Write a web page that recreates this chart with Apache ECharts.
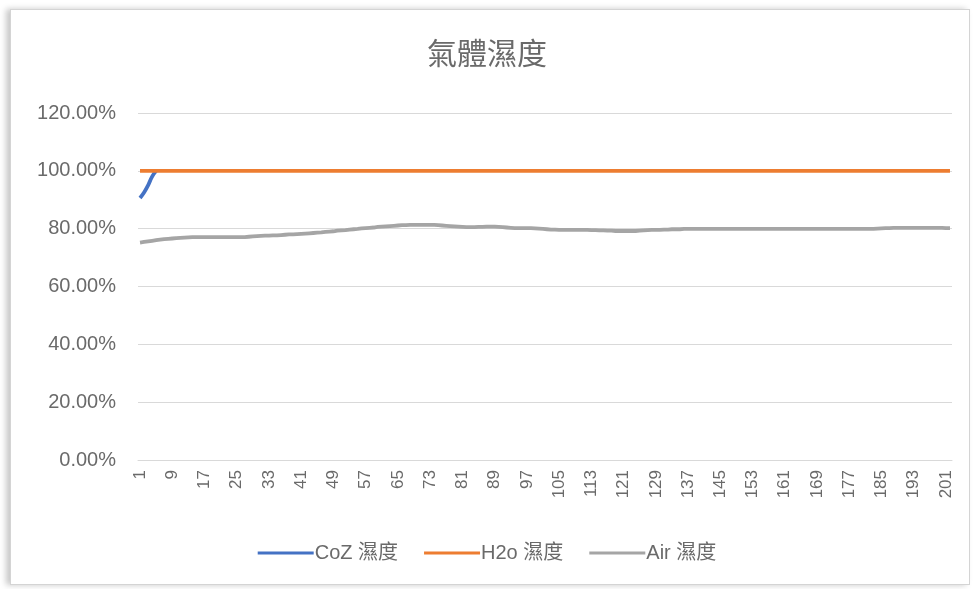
<!DOCTYPE html>
<html>
<head>
<meta charset="utf-8">
<script src="https://cdn.jsdelivr.net/npm/echarts@6/dist/echarts.min.js"></script>
<style>
  html, body { margin: 0; padding: 0; background: #fff; }
  #humidChart { width: 974px; height: 589px; }
  #frame {
    position: absolute; left: 10px; top: 9px; width: 958px; height: 574px;
    border: 1px solid #d4d4d4; box-shadow: -4px 0 6px #c8c8c8; pointer-events: none;
  }
</style>
</head>
<body>
<div id="humidChart"></div>
<div id="frame"></div>
<script>
// x 軸: 1 ~ 202
var categories = [];
for (var n = 1; n <= 202; n++) categories.push(String(n));

var yTicks = [0, 0.2, 0.4, 0.6, 0.8, 1.0, 1.2];

// CoZ 濕度 (只看得到開頭幾點, 之後被 H2o 蓋住)
var coz = [0.906, 0.925, 0.950, 0.980, 1.0];

// H2o 濕度
var h2o = [
  1,1,1,1,1,1,1,1,1,1,1,1,1,1,1,1,1,1,1,1,
  1,1,1,1,1,1,1,1,1,1,1,1,1,1,1,1,1,1,1,1,
  1,1,1,1,1,1,1,1,1,1,1,1,1,1,1,1,1,1,1,1,
  1,1,1,1,1,1,1,1,1,1,1,1,1,1,1,1,1,1,1,1,
  1,1,1,1,1,1,1,1,1,1,1,1,1,1,1,1,1,1,1,1,
  1,1,1,1,1,1,1,1,1,1,1,1,1,1,1,1,1,1,1,1,
  1,1,1,1,1,1,1,1,1,1,1,1,1,1,1,1,1,1,1,1,
  1,1,1,1,1,1,1,1,1,1,1,1,1,1,1,1,1,1,1,1,
  1,1,1,1,1,1,1,1,1,1,1,1,1,1,1,1,1,1,1,1,
  1,1,1,1,1,1,1,1,1,1,1,1,1,1,1,1,1,1,1,1,
  1,1
];

// Air 濕度
var air = [
  0.752,0.754,0.756,0.758,0.760,0.762,0.764,0.765,0.766,0.767,
  0.768,0.769,0.770,0.771,0.771,0.771,0.771,0.771,0.771,0.771,
  0.771,0.771,0.771,0.771,0.771,0.771,0.771,0.772,0.773,0.774,
  0.775,0.776,0.776,0.777,0.777,0.778,0.779,0.780,0.780,0.781,
  0.782,0.783,0.784,0.785,0.786,0.787,0.789,0.790,0.791,0.793,
  0.794,0.795,0.797,0.798,0.799,0.801,0.802,0.803,0.804,0.806,
  0.807,0.808,0.809,0.810,0.811,0.812,0.812,0.813,0.813,0.813,
  0.813,0.813,0.813,0.813,0.812,0.811,0.810,0.809,0.808,0.807,
  0.806,0.805,0.805,0.805,0.806,0.806,0.807,0.807,0.807,0.806,
  0.805,0.804,0.803,0.802,0.802,0.802,0.802,0.802,0.801,0.800,
  0.799,0.798,0.797,0.797,0.796,0.796,0.796,0.796,0.796,0.796,
  0.796,0.796,0.795,0.795,0.794,0.794,0.793,0.793,0.792,0.792,
  0.792,0.792,0.792,0.792,0.793,0.794,0.795,0.796,0.796,0.796,
  0.797,0.797,0.798,0.798,0.798,0.799,0.799,0.799,0.799,0.799,
  0.799,0.799,0.799,0.799,0.799,0.799,0.799,0.799,0.799,0.799,
  0.799,0.799,0.799,0.799,0.799,0.799,0.799,0.799,0.799,0.799,
  0.799,0.799,0.799,0.799,0.799,0.799,0.799,0.799,0.799,0.799,
  0.799,0.799,0.799,0.799,0.799,0.799,0.799,0.799,0.799,0.799,
  0.799,0.799,0.799,0.800,0.801,0.802,0.802,0.803,0.803,0.803,
  0.803,0.803,0.803,0.803,0.803,0.803,0.803,0.803,0.803,0.803,
  0.802,0.802
];

var seriesNames = ['CoZ 濕度', 'H2o 濕度', 'Air 濕度'];
var seriesColors = ['#4472C4', '#ED7D31', '#A5A5A5'];
var seriesData = [coz, h2o, air];

var textColor = '#6a6a6a';
var fontFamily = 'Liberation Sans, "Noto Sans CJK TC", sans-serif';

var humidChart = echarts.init(document.getElementById('humidChart'));
var options = {
  backgroundColor: '#fff',
  animation: false,
  title: {
    text: '氣體濕度',
    left: 'center',
    top: 36,
    textStyle: { color: textColor, fontSize: 30, fontWeight: 'normal', fontFamily: fontFamily }
  },
  legend: {
    bottom: 21,
    left: 'center',
    icon: 'rect',
    itemWidth: 56,
    itemHeight: 3,
    itemGap: 26,
    data: seriesNames,
    textStyle: { color: textColor, fontSize: 20, fontFamily: fontFamily, padding: [0, 0, 0, -4] }
  },
  grid: {
    left: 138,
    right: 22,
    top: 113,
    bottom: 129
  },
  xAxis: {
    type: 'category',
    data: categories,
    boundaryGap: true,
    axisLine: { lineStyle: { color: '#d9d9d9' } },
    axisTick: { show: false },
    axisLabel: {
      interval: 7,
      rotate: 90,
      margin: 10,
      color: textColor,
      fontSize: 17,
      fontFamily: fontFamily
    }
  },
  yAxis: {
    type: 'value',
    min: yTicks[0],
    max: yTicks[yTicks.length - 1],
    interval: 0.2,
    axisLine: { show: false },
    axisTick: { show: false },
    splitLine: { lineStyle: { color: '#d9d9d9' } },
    axisLabel: {
      margin: 22,
      color: textColor,
      fontSize: 20,
      fontFamily: fontFamily,
      formatter: function (v) { return (v * 100).toFixed(2) + '%'; }
    }
  },
  series: seriesNames.map(function (name, i) {
    return {
      name: name,
      type: 'line',
      data: seriesData[i],
      showSymbol: false,
      smooth: i === 0,
      color: seriesColors[i],
      lineStyle: { width: 3.8, color: seriesColors[i] }
    };
  })
};
humidChart.setOption(options);
</script>
</body>
</html>
